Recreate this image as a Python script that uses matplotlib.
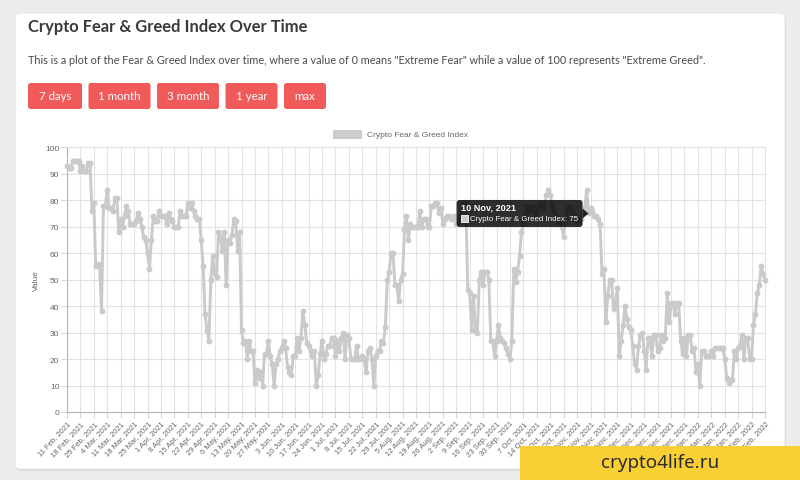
import matplotlib
matplotlib.use('Agg')
import matplotlib.pyplot as plt
from matplotlib.patches import FancyBboxPatch, Rectangle, Polygon
import pandas as pd

# Daily Crypto Fear & Greed Index values, one row per week starting 11 Feb 2021
start_date = '2021-02-11'
fear_greed = [
    93, 92, 92, 95, 95, 95, 95,
    91, 93, 91, 91, 94, 94, 76,
    79, 55, 56, 55, 38, 78, 78,
    84, 77, 77, 76, 81, 81, 68,
    73, 70, 74, 78, 76, 71, 71,
    71, 72, 75, 73, 70, 66, 65,
    60, 54, 65, 74, 72, 72, 76,
    74, 74, 74, 71, 75, 73, 72,
    70, 70, 70, 76, 74, 74, 74,
    79, 77, 79, 76, 74, 73, 73,
    65, 55, 37, 31, 27, 50, 59,
    52, 51, 68, 66, 61, 68, 48,
    65, 64, 67, 73, 72, 61, 68,
    31, 26, 27, 20, 27, 23, 23,
    11, 16, 13, 15, 10, 22, 22,
    27, 21, 18, 10, 18, 20, 23,
    24, 27, 24, 17, 15, 14, 21,
    21, 28, 23, 28, 38, 33, 26,
    25, 23, 21, 23, 10, 14, 22,
    27, 20, 22, 25, 25, 28, 28,
    21, 27, 23, 28, 30, 20, 29,
    28, 20, 20, 20, 25, 20, 20,
    21, 20, 15, 23, 24, 20, 10,
    21, 23, 23, 27, 26, 32, 50,
    53, 60, 60, 48, 48, 42, 50,
    52, 69, 74, 65, 71, 70, 70,
    70, 70, 76, 70, 73, 73, 70,
    70, 78, 78, 79, 79, 75, 77,
    71, 73, 74, 74, 73, 73, 74,
    71, 72, 74, 76, 79, 79, 46,
    45, 31, 44, 31, 30, 50, 53,
    48, 53, 53, 50, 27, 27, 21,
    27, 33, 28, 27, 26, 24, 22,
    20, 27, 54, 49, 53, 59, 68,
    71, 74, 78, 76, 77, 78, 74,
    76, 78, 79, 77, 78, 82, 84,
    82, 78, 76, 74, 72, 73, 70,
    66, 73, 76, 78, 77, 75, 74,
    72, 73, 73, 75, 77, 84, 75,
    77, 76, 74, 74, 73, 71, 52,
    54, 34, 44, 50, 50, 39, 41,
    47, 21, 27, 33, 40, 35, 32,
    31, 25, 18, 16, 25, 29, 30,
    23, 16, 28, 28, 21, 29, 29,
    23, 24, 29, 27, 28, 45, 34,
    41, 41, 37, 41, 41, 27, 22,
    28, 21, 29, 29, 23, 24, 15,
    18, 10, 23, 23, 21, 21, 21,
    23, 21, 24, 24, 24, 24, 24,
    20, 13, 11, 12, 12, 23, 20,
    24, 25, 29, 20, 28, 28, 20,
    20, 33, 37, 45, 48, 55, 52,
    50,
]
buttons = ['7 days', '1 month', '3 month', '1 year', 'max']
hover_day = 272

dates = pd.date_range(start_date, periods=len(fear_greed), freq='D')
days = list(range(len(fear_greed)))


def fmt(d):
    return '{} {}, {}'.format(d.day, d.strftime('%b'), d.year)


tick_days = days[::7]
tick_labels = [fmt(dates[i]) for i in tick_days]

W, H = 800, 481
fig = plt.figure(figsize=(W / 100, H / 100), dpi=100)
fig.patch.set_facecolor('#ececec')


def pixel_layer(z):
    a = fig.add_axes([0, 0, 1, 1], zorder=z)
    a.set_xlim(0, W)
    a.set_ylim(H, 0)
    a.axis('off')
    a.patch.set_alpha(0)
    return a


# page card, title, buttons
base = pixel_layer(0)
base.add_patch(FancyBboxPatch((16, 16), 770, 456, boxstyle='round,pad=0,rounding_size=5',
                              fc='#dcdcdc', ec='none'))
base.add_patch(FancyBboxPatch((15, 14), 770, 456, boxstyle='round,pad=0,rounding_size=5',
                              fc='white', ec='#e2e2e2', lw=0.6))

base.text(28, 27, 'Crypto Fear & Greed Index Over Time', fontsize=11.9, fontweight='bold',
          color='#3a3a3a', va='center', family='Lato')
base.text(28, 60, 'This is a plot of the Fear & Greed Index over time, where a value of 0 means '
          '"Extreme Fear" while a value of 100 represents "Extreme Greed".',
          fontsize=7.85, color='#4a4a4a', va='center', family='Lato')

button_w = [54, 62, 62, 52, 42]
bx = 28
for label, w in zip(buttons, button_w):
    base.add_patch(FancyBboxPatch((bx, 84), w, 26, boxstyle='round,pad=0,rounding_size=2.5',
                                  fc='#f05a5b', ec='none'))
    base.text(bx + w / 2, 97, label, fontsize=8.3, color='white', va='center', ha='center',
              family='Lato')
    bx += w + 6.5

# legend and axis title
base.add_patch(Rectangle((333, 131), 29, 9, fc='#cccccc', ec='none'))
base.text(367, 135.5, 'Crypto Fear & Greed Index', fontsize=6, color='#666666', va='center',
          family='Liberation Sans')
base.text(36, 281, 'Value', fontsize=6, color='#666666', va='center', ha='center', rotation=90,
          family='Liberation Sans')

# chart
x0, x1, y0, y1 = 67, 765, 148.3, 413
ax = fig.add_axes([x0 / W, 1 - y1 / H, (x1 - x0) / W, (y1 - y0) / H], zorder=1)
ax.set_facecolor('white')
ax.plot(days, fear_greed, color='#cacaca', lw=2.1, marker='o', ms=3.2,
        mfc='#cacaca', mec='#cacaca', zorder=3, clip_on=False)
ax.set_xlim(0, len(fear_greed) - 1)
ax.set_ylim(0, 100)
ax.set_yticks(range(0, 101, 10))
ax.set_xticks(tick_days)
ax.set_xticklabels(tick_labels, rotation=47, ha='right', rotation_mode='anchor')
ax.grid(color='#e3e3e3', lw=0.8, zorder=0)
ax.set_axisbelow(True)
for side in ['top', 'right']:
    ax.spines[side].set_color('#e3e3e3')
    ax.spines[side].set_linewidth(0.8)
for side in ['left', 'bottom']:
    ax.spines[side].set_color('#b5b5b5')
    ax.spines[side].set_linewidth(0.8)
ax.tick_params(axis='both', length=4, width=0.8, color='#d6d6d6', labelcolor='#666666',
               labelsize=6, pad=1.5)
ax.tick_params(axis='x', labelsize=5.5)
for lab in ax.get_xticklabels() + ax.get_yticklabels():
    lab.set_family('Liberation Sans')

# tooltip for hovered point
top = pixel_layer(2)
hx = x0 + (x1 - x0) * hover_day / (len(fear_greed) - 1)
hy = y1 - (y1 - y0) * fear_greed[hover_day] / 100
right = hx - 6
tw, th = 126, 27
top.add_patch(FancyBboxPatch((right - tw, hy - th / 2), tw, th,
                             boxstyle='round,pad=0,rounding_size=3', fc='black', ec='none',
                             alpha=0.82))
top.add_patch(Polygon([(right, hy - 5), (right + 6, hy), (right, hy + 5)], closed=True,
                      fc='black', ec='none', alpha=0.82))
top.text(right - tw + 4, hy - 6.5, fmt(dates[hover_day]), fontsize=6.6, fontweight='bold',
         color='white', va='center', family='Liberation Sans')
top.add_patch(Rectangle((right - tw + 4, hy + 1.5), 7, 7, fc='#cccccc', ec='white', lw=0.6))
top.text(right - tw + 13, hy + 5, 'Crypto Fear & Greed Index: {}'.format(fear_greed[hover_day]),
         fontsize=5.7, color='white', va='center', family='Liberation Sans')

# watermark banner
top.add_patch(Rectangle((520, 447), 280, 34, fc='#f9cf33', ec='none'))
top.text(660, 463.5, 'crypto4life.ru', fontsize=13.5, color='#2b2b2b', ha='center',
         va='center', family='Noto Sans')

fig.savefig('out.png', dpi=100, facecolor=fig.get_facecolor())
